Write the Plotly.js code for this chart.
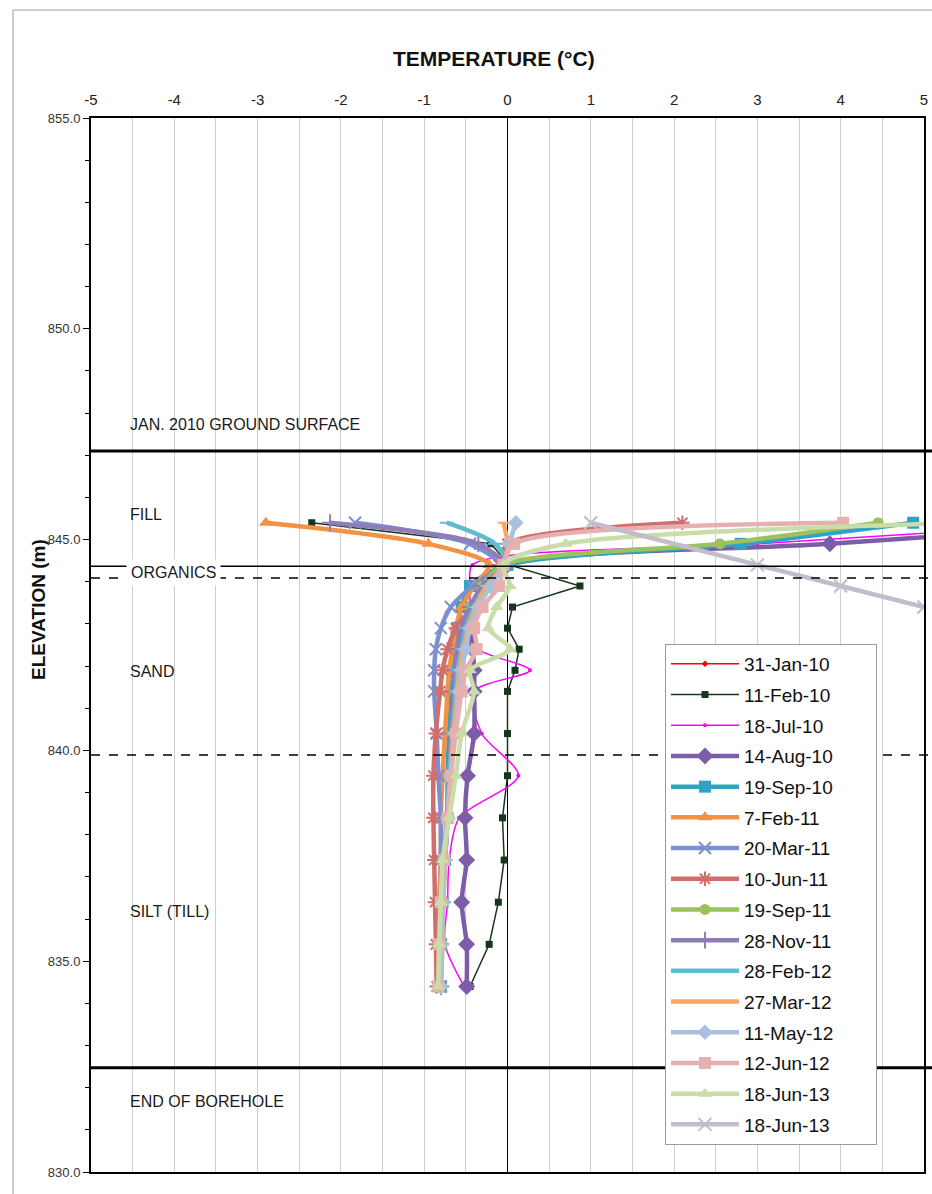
<!DOCTYPE html>
<html>
<head>
<meta charset="utf-8">
<script src="https://cdn.plot.ly/plotly-3.0.1.min.js"></script>
<style>
  html, body { margin: 0; padding: 0; background: #ffffff; }
  #chart { width: 932px; height: 1194px; }
</style>
</head>
<body>
<div id="chart"></div>
<script>
// ---- DATA ----
const elevations = [845.4, 844.9, 844.4, 843.9, 843.4, 842.9, 842.4, 841.9, 841.4, 840.4, 839.4, 838.4, 837.4, 836.4, 835.4, 834.4];

const seriesNames = ["31-Jan-10", "11-Feb-10", "18-Jul-10", "14-Aug-10", "19-Sep-10", "7-Feb-11", "20-Mar-11", "10-Jun-11",
  "19-Sep-11", "28-Nov-11", "28-Feb-12", "27-Mar-12", "11-May-12", "12-Jun-12", "18-Jun-13", "18-Jun-13"];

const t_31Jan10 = [null, null, -0.1, -0.2, -0.42, -0.62, -0.72, -0.78, -0.81, -0.86, -0.89, -0.89, -0.88, -0.87, -0.86, -0.85];
const t_11Feb10 = [-2.35, -0.2, 0.02, 0.87, 0.06, 0.0, 0.14, 0.09, 0.0, 0.0, 0.0, -0.06, -0.04, -0.11, -0.22, -0.45];
const t_18Jul10 = [7.0, 3.0, -0.42, -0.45, -0.45, -0.45, -0.35, 0.27, -0.4, -0.31, 0.13, -0.58, -0.7, -0.72, -0.75, -0.52];
const t_14Aug10 = [7.5, 3.87, 0.0, -0.3, -0.42, -0.45, -0.42, -0.4, -0.4, -0.4, -0.48, -0.51, -0.49, -0.55, -0.49, -0.49];
const t_19Sep10 = [4.87, 2.8, 0.0, -0.45, -0.55, -0.6, -0.62, -0.65, -0.67, -0.7, -0.72, -0.72, -0.75, -0.78, -0.8, -0.8];
const t_7Feb11  = [-2.9, -0.95, -0.22, -0.4, -0.55, -0.62, -0.66, -0.7, -0.72, -0.75, -0.78, -0.8, -0.8, -0.82, -0.82, -0.82];
const t_20Mar11 = [-1.83, -0.45, -0.1, -0.42, -0.68, -0.8, -0.86, -0.88, -0.88, -0.85, -0.83, -0.8, -0.8, -0.8, -0.8, -0.8];
const t_10Jun11 = [2.1, 0.0, -0.1, -0.2, -0.42, -0.62, -0.72, -0.78, -0.81, -0.86, -0.89, -0.89, -0.88, -0.87, -0.86, -0.85];
const t_19Sep11 = [4.45, 2.55, -0.05, -0.3, -0.45, -0.52, -0.55, -0.58, -0.6, -0.65, -0.7, -0.72, -0.75, -0.78, -0.8, -0.8];
const t_28Nov11 = [-2.13, -0.35, -0.05, -0.3, -0.45, -0.55, -0.6, -0.63, -0.65, -0.68, -0.7, -0.73, -0.76, -0.78, -0.8, -0.8];
const t_28Feb12 = [-0.73, -0.15, 0.0, -0.25, -0.4, -0.5, -0.55, -0.6, -0.62, -0.66, -0.7, -0.72, -0.75, -0.78, -0.8, -0.8];
const t_27Mar12 = [-0.05, 0.0, -0.05, -0.25, -0.38, -0.47, -0.53, -0.58, -0.6, -0.65, -0.68, -0.72, -0.75, -0.77, -0.78, -0.8];
const t_11May12 = [0.1, 0.02, -0.05, -0.2, -0.35, -0.45, -0.5, -0.55, -0.58, -0.63, -0.68, -0.72, -0.75, -0.77, -0.79, -0.8];
const t_12Jun12 = [4.03, 0.08, -0.05, -0.1, -0.3, -0.4, -0.37, -0.5, -0.55, -0.62, -0.68, -0.72, -0.76, -0.8, -0.82, -0.83];
const t_18Jun13a = [5.5, 0.7, -0.05, 0.03, -0.13, -0.23, 0.03, -0.45, -0.4, -0.55, -0.62, -0.7, -0.78, -0.8, -0.82, -0.83];
const t_18Jun13b = [1.0, null, 3.0, 4.0, 5.0, null, null, null, null, null, null, null, null, null, null, null];

const seriesValues = [t_31Jan10, t_11Feb10, t_18Jul10, t_14Aug10, t_19Sep10, t_7Feb11, t_20Mar11, t_10Jun11,
  t_19Sep11, t_28Nov11, t_28Feb12, t_27Mar12, t_11May12, t_12Jun12, t_18Jun13a, t_18Jun13b];

const xTickVals = [-5, -4, -3, -2, -1, 0, 1, 2, 3, 4, 5];
const xTickText = ["-5", "-4", "-3", "-2", "-1", "0", "1", "2", "3", "4", "5"];
const yTickVals = [830, 835, 840, 845, 850, 855];

// stratigraphy boundaries (elevation, m) and layer labels
const groundSurface = 847.1;
const organicsTop = 844.37;
const organicsBottom = 844.09;
const sandBottom = 839.89;
const endOfBorehole = 832.47;
const layerLabels = ["JAN. 2010 GROUND SURFACE", "FILL", "SAND", "SILT (TILL)", "END OF BOREHOLE"];
const layerLabelElev = [847.72, 845.6, 841.86, 836.19, 831.68];

// ---- STYLES ----
const styles = [
  {color: "#FF0000", width: 1.5, symbol: "diamond", size: 5},
  {color: "#15361C", width: 1.5, symbol: "square", size: 7, straight: true},
  {color: "#FF00FF", width: 1.5, symbol: "circle", size: 4},
  {color: "#7D5CA8", width: 4.5, symbol: "diamond", size: 13},
  {color: "#2FA3C1", width: 4.5, symbol: "square", size: 12},
  {color: "#F39243", width: 4.5, symbol: "triangle-up", size: 12},
  {color: "#7C90D0", width: 4.5, symbol: "x-thin-open", size: 12},
  {color: "#D06E6B", width: 4.5, symbol: "asterisk-open", size: 12},
  {color: "#9CC25E", width: 4.5, symbol: "circle", size: 11},
  {color: "#8F7DB9", width: 4.5, symbol: "cross-thin-open", size: 12},
  {color: "#5FBBD0", width: 4.5, symbol: "line-ew-open", size: 10},
  {color: "#F8A669", width: 4.5, symbol: "line-ew-open", size: 8},
  {color: "#A9C1DD", width: 4.5, symbol: "diamond", size: 12},
  {color: "#E6B0B0", width: 4.5, symbol: "square", size: 12},
  {color: "#C9DDA8", width: 4.5, symbol: "triangle-up", size: 12},
  {color: "#C2BCCB", width: 4.5, symbol: "x-thin-open", size: 13}
];

// trailing non-breaking spaces widen the legend box to the reference's width
const legendPad = "\u00a0\u00a0\u00a0\u00a0\u00a0\u00a0\u00a0";

const traces = seriesValues.map((vals, i) => {
  const s = styles[i];
  const open = s.symbol.indexOf("open") >= 0;
  return {
    type: "scatter",
    mode: "lines+markers",
    x: vals,
    y: elevations,
    name: seriesNames[i] + legendPad,
    legendgroup: "g" + i,
    connectgaps: true,
    line: {color: s.color, width: s.width, shape: s.straight ? "linear" : "spline", smoothing: 0.8},
    marker: {symbol: s.symbol, size: s.size, color: s.color,
             line: {color: s.color, width: open ? 2 : 0}},
    hoverinfo: "x+y+name"
  };
});

// ---- LAYOUT ----
const L = 91, R = 8, T = 118, B = 22, W = 932, H = 1194;
const plotW = W - L - R, plotH = H - T - B;
const yMin = 830, yMax = 855;
const yPaper = e => (e - yMin) / (yMax - yMin);
const xPaperPx = px => (px - L) / plotW;
const yPaperPx = py => (H - B - py) / plotH;

const shapes = [
  {type: "line", xref: "paper", yref: "paper", x0: 0, x1: xPaperPx(932), y0: yPaper(groundSurface), y1: yPaper(groundSurface), line: {color: "#000", width: 3}},
  {type: "line", xref: "paper", yref: "paper", x0: 0, x1: 1, y0: yPaper(organicsTop), y1: yPaper(organicsTop), line: {color: "#000", width: 1.5}},
  {type: "line", xref: "paper", yref: "paper", x0: 0, x1: xPaperPx(932), y0: yPaper(organicsBottom), y1: yPaper(organicsBottom), line: {color: "#000", width: 1.5, dash: "dash"}},
  {type: "line", xref: "paper", yref: "paper", x0: 0, x1: xPaperPx(932), y0: yPaper(sandBottom), y1: yPaper(sandBottom), line: {color: "#000", width: 1.5, dash: "dash"}},
  {type: "line", xref: "paper", yref: "paper", x0: 0, x1: xPaperPx(932), y0: yPaper(endOfBorehole), y1: yPaper(endOfBorehole), line: {color: "#000", width: 3}},
  // outer page frame
  {type: "line", xref: "paper", yref: "paper", x0: xPaperPx(13), x1: xPaperPx(13), y0: yPaperPx(10), y1: yPaperPx(1200), line: {color: "#BDBDBD", width: 1.5}},
  {type: "line", xref: "paper", yref: "paper", x0: xPaperPx(13), x1: xPaperPx(940), y0: yPaperPx(10), y1: yPaperPx(10), line: {color: "#BDBDBD", width: 1.5}}
];

const labelFont = {family: "Arial, 'Liberation Sans', sans-serif", size: 16, color: "#1a1a1a"};
const annotations = layerLabels.map((t, i) => ({
  text: t, xref: "paper", yref: "y", x: xPaperPx(128), y: layerLabelElev[i],
  xanchor: "left", yanchor: "middle", showarrow: false, font: labelFont
}));
annotations.push({
  text: "ORGANICS", xref: "paper", yref: "y", x: xPaperPx(173), y: (organicsTop + organicsBottom) / 2,
  xanchor: "center", yanchor: "middle", showarrow: false, font: labelFont,
  bgcolor: "#ffffff", borderpad: 4
});
annotations.push({
  text: "<b>TEMPERATURE (°C)</b>", xref: "paper", yref: "paper", x: xPaperPx(494), y: yPaperPx(58),
  xanchor: "center", yanchor: "middle", showarrow: false,
  font: {family: "Arial, 'Liberation Sans', sans-serif", size: 21, color: "#111"}
});
annotations.push({
  text: "<b>ELEVATION (m)</b>", xref: "paper", yref: "paper", x: xPaperPx(38), y: yPaperPx(610),
  xanchor: "center", yanchor: "middle", showarrow: false, textangle: -90,
  font: {family: "Arial, 'Liberation Sans', sans-serif", size: 19, color: "#111"}
});

const layout = {
  width: W, height: H,
  margin: {l: L, r: R, t: T, b: B, pad: 0},
  paper_bgcolor: "#ffffff", plot_bgcolor: "#ffffff",
  showlegend: true,
  xaxis: {
    side: "top", range: [-5, 5], tickvals: xTickVals, ticktext: xTickText, ticks: "",
    ticklabelstandoff: 5,
    showgrid: true, gridcolor: "#CFCFCF", gridwidth: 1,
    minor: {dtick: 0.5, showgrid: true, gridcolor: "#CFCFCF", gridwidth: 1},
    zeroline: true, zerolinecolor: "#000", zerolinewidth: 1.5,
    showline: true, mirror: true, linecolor: "#000", linewidth: 2,
    tickfont: {family: "Arial, 'Liberation Sans', sans-serif", size: 15, color: "#222"},
    fixedrange: true
  },
  yaxis: {
    range: [yMin, yMax], tickvals: yTickVals, tickformat: ".1f",
    ticks: "outside", ticklen: 6, tickcolor: "#000", tickwidth: 1,
    minor: {dtick: 1, ticks: "outside", ticklen: 4, tickcolor: "#000", showgrid: false},
    showgrid: false, zeroline: false,
    showline: true, mirror: true, linecolor: "#000", linewidth: 2,
    tickfont: {family: "Arial, 'Liberation Sans', sans-serif", size: 13, color: "#333"},
    fixedrange: true
  },
  legend: {
    x: xPaperPx(665), y: yPaperPx(644), xanchor: "left", yanchor: "top",
    bgcolor: "#ffffff", bordercolor: "#9a9a9a", borderwidth: 1,
    font: {family: "Arial, 'Liberation Sans', sans-serif", size: 19, color: "#111"},
    traceorder: "grouped", tracegroupgap: 3, itemwidth: 68
  },
  shapes: shapes,
  annotations: annotations
};

Plotly.newPlot("chart", traces, layout, {displayModeBar: false, staticPlot: true});
</script>
</body>
</html>
